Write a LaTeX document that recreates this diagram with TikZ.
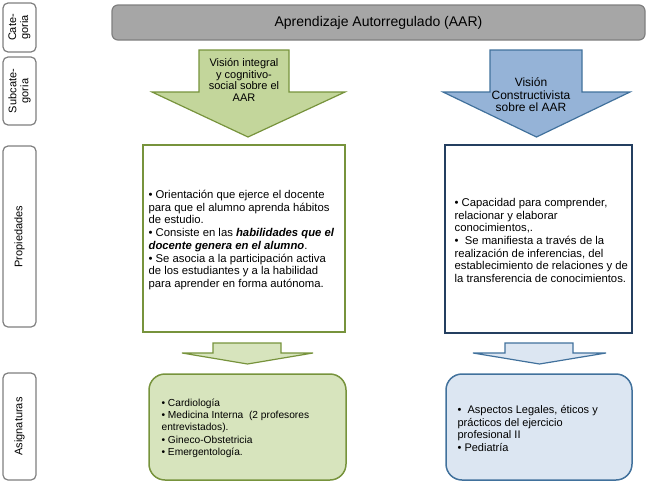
\documentclass[tikz,border=0pt]{standalone}
\usepackage{fontspec}
\setmainfont{Liberation Sans}

\definecolor{olive}{HTML}{77933C}
\definecolor{greenmid}{HTML}{C3D69B}
\definecolor{greenlight}{HTML}{D7E4BD}
\definecolor{bluemid}{HTML}{95B3D7}
\definecolor{bluelight}{HTML}{DCE6F2}
\definecolor{blueline}{HTML}{41719C}
\definecolor{navy}{HTML}{243F60}
\definecolor{sidegray}{HTML}{7F7F7F}
\definecolor{titlegray}{HTML}{A6A6A6}

\begin{document}
\begin{tikzpicture}[x=1pt, y=-1pt, line width=1.2pt,
  sidebox/.style={draw=sidegray, fill=white, rounded corners=5pt, rotate=90,
    align=center, inner sep=0pt, font=\fontsize{11}{12}\selectfont},
  bodytext/.style={align=left, inner sep=0pt, anchor=west}]

\useasboundingbox (0,0) rectangle (650,482);

% row labels
\node [sidebox, minimum width=49pt, minimum height=33pt] (cat) at (19.5,27.5) {Cate-\\goria};
\node [sidebox, minimum width=68pt, minimum height=33pt] (subcat) at (19.5,91) {Subcate-\\goria};
\node [sidebox, minimum width=181pt, minimum height=33pt] (prop) at (19.5,236.5) {Propiedades};
\node [sidebox, minimum width=107pt, minimum height=33pt] (asig) at (19.5,426.5) {Asignaturas};

% category
\node [draw=sidegray, fill=titlegray, rounded corners=6pt, minimum width=533pt,
  minimum height=35pt, font=\fontsize{14}{16}\selectfont] (aar) at (378.5,22.5)
  {Aprendizaje Autorregulado (AAR)};

% subcategories
\draw [draw=olive, fill=greenmid, line join=miter]
  (199,50)--(289,50)--(289,92)--(345,92)--(248,137)--(152,92)--(199,92)--cycle;
\node [align=center, inner sep=0pt, font=\fontsize{11}{11.7}\selectfont] (integral) at (244,80)
  {Visión integral\\y cognitivo-\\social sobre el\\AAR};

\draw [draw=blueline, fill=bluemid, line join=miter]
  (490,50)--(582,50)--(582,92)--(630,92)--(536.5,137)--(443,92)--(490,92)--cycle;
\node [align=center, inner sep=0pt, font=\fontsize{12}{12.5}\selectfont] (constr) at (531,95)
  {Visión\\Constructivista\\sobre el AAR};

% properties
\node [draw=olive, line width=1.5pt, minimum width=202pt, minimum height=187pt] (propg) at (244,238.5) {};
\node [bodytext, font=\fontsize{11.3}{12.7}\selectfont] (propgtext) at (148,240)
  {• Orientación que ejerce el docente\\
   para que el alumno aprenda hábitos\\
   de estudio.\\
   • Consiste en las \textbf{\textit{habilidades que el}}\\
   \textbf{\textit{docente genera en el alumno}}.\\
   • Se asocia a la participación activa\\
   de los estudiantes y a la habilidad\\
   para aprender en forma autónoma.};

\node [draw=navy, line width=1.5pt, minimum width=187pt, minimum height=188pt] (propb) at (538.5,239) {};
\node [bodytext, font=\fontsize{11.3}{12.7}\selectfont] (propbtext) at (454,240.5)
  {• Capacidad para comprender,\\
   relacionar y elaborar\\
   conocimientos,.\\
   •\ \ Se manifiesta a través de la\\
   realización de inferencias, del\\
   establecimiento de relaciones y de\\
   la transferencia de conocimientos.};

% small arrows
\draw [draw=olive, fill=greenlight, line join=miter]
  (213,343)--(281,343)--(281,353)--(313,353)--(247.5,364)--(182,353)--(213,353)--cycle;
\draw [draw=blueline, fill=bluelight, line join=miter]
  (505,343)--(573,343)--(573,353)--(606,353)--(539.5,364)--(473,353)--(505,353)--cycle;

% subjects
\node [draw=olive, fill=greenlight, line width=1.5pt, rounded corners=16pt,
  minimum width=197pt, minimum height=106pt] (asigg) at (247.5,427) {};
\node [bodytext, font=\fontsize{10.2}{12.3}\selectfont] (asiggtext) at (161,428)
  {• Cardiología\\
   • Medicina Interna\ \ (2 profesores\\
   entrevistados).\\
   • Gineco-Obstetricia\\
   • Emergentología.};

\node [draw=blueline, fill=bluelight, line width=1.5pt, rounded corners=16pt,
  minimum width=186pt, minimum height=106pt] (asigb) at (539,427) {};
\node [bodytext, font=\fontsize{11}{12.8}\selectfont] (asigbtext) at (457,428.5)
  {•\ \ Aspectos Legales, éticos y\\
   prácticos del ejercicio\\
   profesional II\\
   • Pediatría};

\end{tikzpicture}
\end{document}
